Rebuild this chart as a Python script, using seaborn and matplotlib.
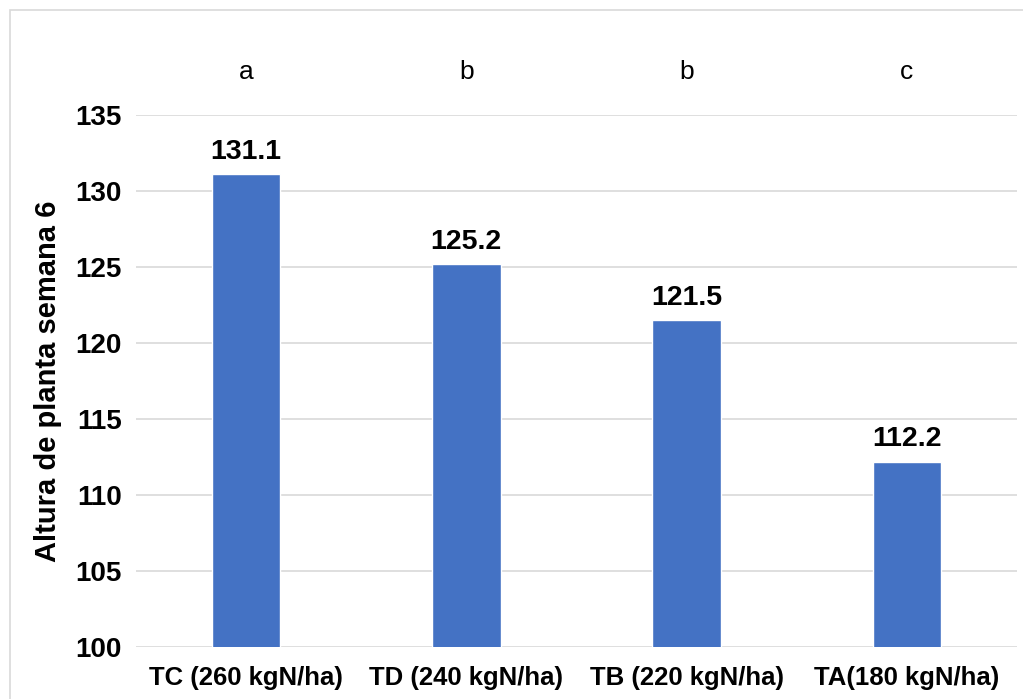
import matplotlib
matplotlib.use("Agg")
import matplotlib.pyplot as plt
import matplotlib.patches as mpatches
import seaborn as sns
import pandas as pd

# Plant height at week 6 per nitrogen treatment
treatments = ["TC (260 kgN/ha)", "TD (240 kgN/ha)", "TB (220 kgN/ha)", "TA(180 kgN/ha)"]
heights = [131.1, 125.2, 121.5, 112.2]
groups = ["a", "b", "b", "c"]
y_ticks = [100, 105, 110, 115, 120, 125, 130, 135]

sns.set_theme(style="white")
plt.rcParams["font.family"] = ["Liberation Sans", "DejaVu Sans"]

df = pd.DataFrame({"tratamiento": treatments, "altura": heights})

fig = plt.figure(figsize=(10.23, 6.99), dpi=100)
ax = fig.add_axes([136 / 1023, 52 / 699, 881 / 1023, 532 / 699])

# light frame around the chart area
fig.patches.append(mpatches.Rectangle((10 / 1023, -0.1), 1.2, (699 - 10) / 699 + 0.1,
                                      transform=fig.transFigure, fill=False,
                                      edgecolor="#D9D9D9", linewidth=1.2))

sns.barplot(data=df, x="tratamiento", y="altura", color="#4472C4",
            saturation=1, width=0.31, ax=ax, zorder=3)

ax.set_ylim(100, 135)
ax.set_yticks(y_ticks)
ax.yaxis.grid(True, color="#D9D9D9", linewidth=1.2, zorder=0)
ax.xaxis.grid(False)
for s in ax.spines.values():
    s.set_visible(False)
ax.tick_params(axis="y", length=0, labelsize=20, pad=10, labelcolor="#000000")
ax.tick_params(axis="x", length=0, labelsize=18.5, pad=14, labelcolor="#000000")
for lab in ax.get_xticklabels() + ax.get_yticklabels():
    lab.set_fontweight("bold")
ax.set_xlabel("")
ax.set_ylabel("Altura de planta semana 6", fontsize=21, fontweight="bold",
              labelpad=10, color="#000000")

for i, (h, g) in enumerate(zip(heights, groups)):
    ax.text(i, h + 0.6, f"{h:.1f}", ha="center", va="bottom",
            fontsize=20.5, fontweight="bold", color="#000000")
    ax.text(i, 137.8, g, ha="center", va="center", fontsize=19, color="#000000")

fig.savefig("out.png", dpi=100)
